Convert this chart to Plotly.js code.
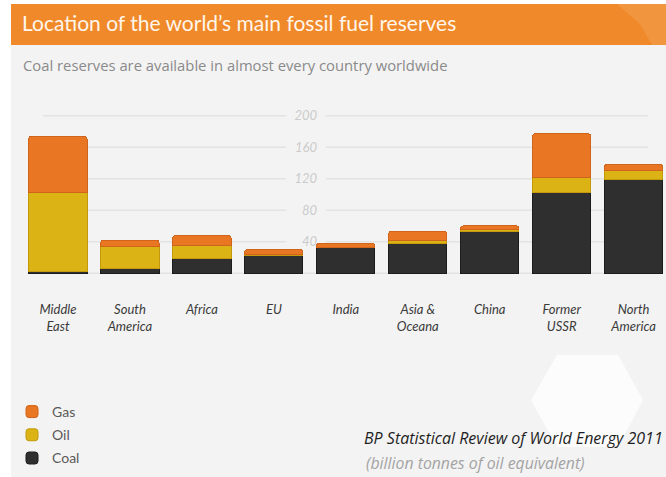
<!DOCTYPE html>
<html>
<head>
<meta charset="utf-8">
<script src="https://cdn.plot.ly/plotly-3.0.1.min.js"></script>
<style>
  html, body { margin: 0; padding: 0; background: #ffffff; }
  #chart { width: 666px; height: 477px; }
</style>
</head>
<body>
<div id="chart"></div>
<script>
// ---- data (billion tonnes of oil equivalent) ----
const regions = ["Middle<br>East", "South<br>America", "Africa", "EU", "India", "Asia &amp;<br>Oceana", "China", "Former<br>USSR", "North<br>America"];
const coal = [2, 6, 18, 23, 32, 38, 53, 103, 119];
const oil  = [101, 28, 17, 1, 1, 4, 2, 19, 11];
const gas  = [71, 8, 13, 6, 5, 11, 5, 55, 8];
const yTicks = [40, 80, 120, 160, 200];
const gridValues = [0, 40, 80, 120, 160, 200];

// ---- layout helpers (pixel -> paper) ----
const W = 666, H = 477;
const M = { l: 22, r: 0, t: 100, b: 196, autoexpand: false };
const PW = W - M.l - M.r, PH = H - M.t - M.b;
const xp = px => (px - M.l) / PW;
const yp = py => (H - M.b - py) / PH;

const FONT = "Lato, 'Open Sans', Roboto, sans-serif";
const FONT2 = "'Open Sans', 'Noto Sans', sans-serif";

const traces = [
  { name: "Coal", y: coal, color: "#2f2f2f", line: "#1c1c1c", rank: 3 },
  { name: "Oil",  y: oil,  color: "#dbb315", line: "#c49a0c", rank: 2 },
  { name: "Gas",  y: gas,  color: "#e87623", line: "#d0641a", rank: 1 }
].map(t => ({
  type: "bar",
  name: t.name,
  x: regions,
  y: t.y,
  legendgroup: t.name,
  legendrank: t.rank,
  marker: { color: t.color, line: { color: t.line, width: 1 } },
  hoverinfo: "x+y+name"
}));

const shapes = [];
// panel background
shapes.push({ type: "rect", xref: "paper", yref: "paper", x0: xp(11), x1: xp(666), y0: yp(4), y1: yp(477),
  fillcolor: "#f3f3f3", line: { width: 0 }, layer: "below" });
// title bar
shapes.push({ type: "rect", xref: "paper", yref: "paper", x0: xp(11), x1: xp(666), y0: yp(4), y1: yp(45),
  fillcolor: "#f0892a", line: { width: 0 }, layer: "below" });
// decorative hexagons
const hexPath = pts => "M" + pts.map(p => xp(p[0]) + "," + yp(p[1])).join("L") + "Z";
shapes.push({ type: "path", xref: "paper", yref: "paper",
  path: hexPath([[617, 4], [666, 4], [666, 45], [652, 45], [640, 24]]),
  fillcolor: "rgba(255,255,255,0.10)", line: { width: 0 }, layer: "below" });
shapes.push({ type: "path", xref: "paper", yref: "paper",
  path: hexPath([[557, 355], [618, 355], [643, 400], [618, 447], [557, 447], [531, 400]]),
  fillcolor: "rgba(255,255,255,0.75)", line: { width: 0 }, layer: "below" });
// gridlines with a gap for the labels
gridValues.forEach(v => {
  const segs = v === 0 ? [[43, 648]] : [[43, 286], [326, 648]];
  segs.forEach(s => shapes.push({ type: "line", xref: "paper", yref: "y", x0: xp(s[0]), x1: xp(s[1]), y0: v, y1: v,
    line: { color: "#e3e3e3", width: 1.5 }, layer: "below" }));
});

const annotations = [
  { text: "Coal reserves are available in almost every country worldwide", xref: "paper", yref: "paper",
    x: xp(21), y: yp(65), xanchor: "left", yanchor: "middle", showarrow: false,
    font: { family: FONT2, size: 14.8, color: "#8a8a8a" } },
  { text: "BP Statistical Review of World Energy 2011", xref: "paper", yref: "paper",
    x: xp(665), y: yp(438), xanchor: "right", yanchor: "middle", showarrow: false,
    font: { family: FONT2, size: 16, color: "#1f1f1f", style: "italic" } },
  { text: "(billion tonnes of oil equivalent)", xref: "paper", yref: "paper",
    x: xp(364), y: yp(463), xanchor: "left", yanchor: "middle", showarrow: false,
    font: { family: FONT2, size: 15.8, color: "#a3a3a3", style: "italic" } }
];

const layout = {
  width: W, height: H,
  margin: M,
  paper_bgcolor: "#ffffff",
  plot_bgcolor: "rgba(0,0,0,0)",
  font: { family: FONT },
  title: { text: "Location of the world’s main fossil fuel reserves", xref: "container", yref: "container",
    x: 22 / W, xanchor: "left", y: 1 - 24 / H, yanchor: "middle", automargin: false,
    font: { family: FONT, size: 21, color: "#fff6ea" } },
  barmode: "stack",
  bargap: 0.19,
  barcornerradius: 3,
  xaxis: {
    type: "category", range: [-0.5, 8.45], showgrid: false, zeroline: false, showline: false,
    ticks: "outside", ticklen: 16, tickcolor: "rgba(0,0,0,0)", automargin: false,
    tickfont: { family: FONT, size: 13, color: "#3a3a3a", style: "italic" },
    fixedrange: true
  },
  yaxis: {
    range: [-10, 220], anchor: "free", position: xp(317), showgrid: false, zeroline: false, showline: false,
    tickvals: yTicks, ticktext: yTicks.map(String), ticks: "", automargin: false,
    tickfont: { family: FONT, size: 13, color: "#cbcbcb", style: "italic" },
    fixedrange: true
  },
  showlegend: true,
  legend: {
    xref: "container", yref: "container", x: 12 / W, y: 1 - 396 / H, xanchor: "left", yanchor: "top",
    traceorder: "grouped", tracegroupgap: 2, bgcolor: "rgba(0,0,0,0)", itemwidth: 30,
    font: { family: FONT, size: 14, color: "#5a5a5a" }
  },
  shapes: shapes,
  annotations: annotations
};

Plotly.newPlot("chart", traces, layout, { displayModeBar: false, staticPlot: true });
</script>
</body>
</html>
